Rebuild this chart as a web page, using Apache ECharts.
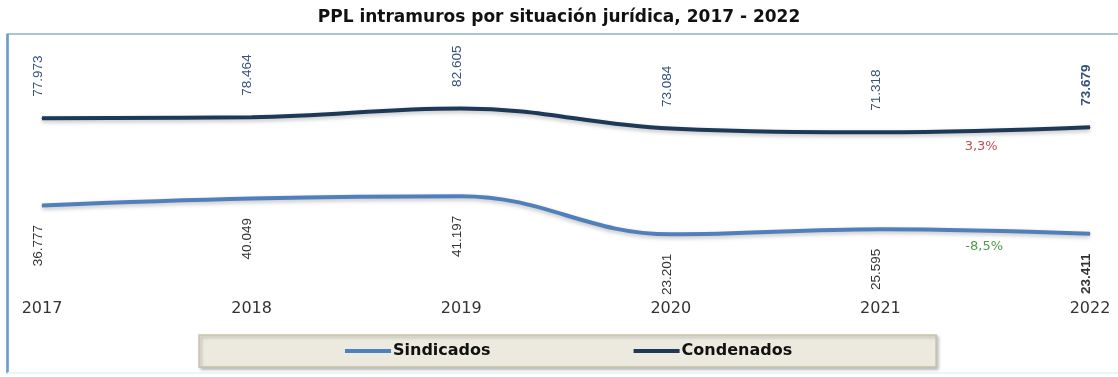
<!DOCTYPE html>
<html>
<head>
<meta charset="utf-8">
<script src="https://cdn.jsdelivr.net/npm/echarts@6/dist/echarts.min.js"></script>
<style>
html,body{margin:0;padding:0;background:#fff;}
#c{width:1118px;height:377px;}
</style>
</head>
<body>
<div id="c"></div>
<script>
const years = ['2017','2018','2019','2020','2021','2022'];
const sindicados = [36777, 40049, 41197, 23201, 25595, 23411];
const condenados = [77973, 78464, 82605, 73084, 71318, 73679];
const varCondenados = '3,3%';
const varSindicados = '-8,5%';

const fmt = v => v.toLocaleString('de-DE');
const lab = "'Liberation Sans',Arial,sans-serif";
const wide = "'DejaVu Sans',Verdana,sans-serif";

const chart = echarts.init(document.getElementById('c'), null, {renderer:'canvas'});

function lbl(series, color, pos, align, dist) {
  return series.map((v, i) => ({
    value: v,
    label: {
      show: true,
      position: pos,
      distance: dist,
      offset: [0, -4],
      rotate: 90,
      align: align,
      verticalAlign: 'middle',
      fontFamily: lab,
      fontSize: 13.5,
      color: color,
      fontWeight: i === series.length - 1 ? 'bold' : 'normal',
      formatter: p => fmt(p.value)
    }
  }));
}

const option = {
  animation: false,
  backgroundColor: '#ffffff',
  title: {
    text: 'PPL intramuros por situación jurídica, 2017 - 2022',
    left: 'center',
    top: 4,
    textStyle: {fontFamily: wide, fontSize: 17, fontWeight: 'bold', color: '#111'}
  },
  grid: {left: 42, right: 28, top: 71.5, bottom: 93.5, containLabel: false},
  xAxis: {
    type: 'category',
    data: years,
    boundaryGap: false,
    axisLine: {show: false},
    axisTick: {show: false},
    splitLine: {show: false},
    axisLabel: {margin: 17, fontFamily: wide, fontSize: 16, color: '#333'}
  },
  yAxis: {
    type: 'value', min: 0, max: 100000, show: false
  },
  legend: {
    data: ['Sindicados', 'Condenados'],
    bottom: 10,
    left: 199,
    itemWidth: 46,
    itemHeight: 4,
    itemGap: 143,
    padding: [8, 144, 8, 146],
    backgroundColor: '#ece9df',
    borderColor: '#c6c2aa',
    borderWidth: 1.5,
    shadowBlur: 3,
    shadowColor: 'rgba(0,0,0,0.25)',
    shadowOffsetX: 2,
    shadowOffsetY: 2,
    textStyle: {fontFamily: wide, fontSize: 16, fontWeight: 'bold', color: '#111', padding: [0,0,0,-3]},
    icon: 'rect'
  },
  series: [
    {
      name: 'Sindicados', type: 'line', smooth: 0.4,
      symbol: 'circle', symbolSize: 1, showSymbol: true,
      data: lbl(sindicados, '#333333', 'bottom', 'right', 19),
      itemStyle: {color: '#4f80bb'},
      lineStyle: {width: 4, color: '#4f80bb', shadowBlur: 4, shadowColor: 'rgba(0,0,0,0.25)', shadowOffsetY: 2}
    },
    {
      name: 'Condenados', type: 'line', smooth: 0.4,
      symbol: 'circle', symbolSize: 1, showSymbol: true,
      data: lbl(condenados, '#36517a', 'top', 'left', 21),
      itemStyle: {color: '#1e3858'},
      lineStyle: {width: 4, color: '#1e3858', shadowBlur: 4, shadowColor: 'rgba(0,0,0,0.25)', shadowOffsetY: 2}
    }
  ]
};
chart.setOption(option);

// Frame + annotations placed from the chart's own scales
const n = years.length;
const px = (i, v) => chart.convertToPixel({gridIndex: 0}, [i, v]);
const a = px(n - 2, condenados[n - 2]), b = px(n - 1, condenados[n - 1]);
const c2 = px(n - 2, sindicados[n - 2]), d = px(n - 1, sindicados[n - 1]);
const midX = (a[0] + b[0]) / 2;
chart.setOption({
  graphic: [
    {type: 'rect', z: -1, silent: true, shape: {x: 7.5, y: 34, width: 1200, height: 339},
     style: {fill: 'none', stroke: '#a8c6d0', lineWidth: 2}},
    {type: 'line', z: 0, silent: true, shape: {x1: 7.5, y1: 34, x2: 7.5, y2: 373},
     style: {stroke: '#6a9ec8', lineWidth: 2.5}},
    {type: 'line', z: 0, silent: true, shape: {x1: 7.5, y1: 373, x2: 1118, y2: 373},
     style: {stroke: '#e6f6fb', lineWidth: 2}},
    {type: 'text', silent: true, x: midX - 4, y: (a[1] + b[1]) / 2 + 10,
     style: {text: varCondenados, fill: '#c0504d', font: "13px 'DejaVu Sans',sans-serif", textAlign: 'center'}},
    {type: 'text', silent: true, x: midX - 1, y: (c2[1] + d[1]) / 2 + 9,
     style: {text: varSindicados, fill: '#4e9a4a', font: "13px 'DejaVu Sans',sans-serif", textAlign: 'center'}}
  ]
});
</script>
</body>
</html>
